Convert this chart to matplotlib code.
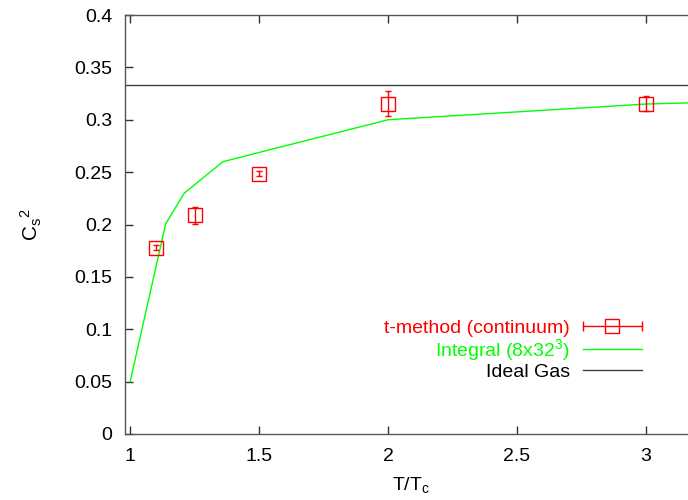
import matplotlib
matplotlib.use("Agg")
import matplotlib.pyplot as plt
from matplotlib.lines import Line2D
from matplotlib.legend_handler import HandlerLine2D, HandlerTuple

plt.rcParams['font.family'] = ['Liberation Sans', 'DejaVu Sans']
plt.rcParams['mathtext.fontset'] = 'custom'
plt.rcParams['mathtext.rm'] = 'Liberation Sans'
plt.rcParams['mathtext.it'] = 'Liberation Sans'

# t-method (continuum) data
t_x = [1.1, 1.25, 1.5, 2.0, 3.0]
t_y = [0.178, 0.2088, 0.2485, 0.3153, 0.3153]
t_err = [0.002, 0.008, 0.0022, 0.0118, 0.007]

# Integral (8x32^3)
int_x = [1.0, 1.1375, 1.21, 1.36, 2.0, 3.0, 3.2]
int_y = [0.05, 0.2005, 0.23, 0.26, 0.30, 0.315, 0.3163]

ideal_gas = 1.0 / 3.0

xticks = [1, 1.5, 2, 2.5, 3]
xticklabels = ['1', '1.5', '2', '2.5', '3']
yticks = [0, 0.05, 0.1, 0.15, 0.2, 0.25, 0.3, 0.35, 0.4]
yticklabels = ['0', '0.05', '0.1', '0.15', '0.2', '0.25', '0.3', '0.35', '0.4']

FS = 14
fig = plt.figure(figsize=(6.88, 5.0), dpi=100)
ax = fig.add_axes([125/688, 66/500, 572.5/688, 419/500])

spine_col = '#555555'
for s in ax.spines.values():
    s.set_color(spine_col)
    s.set_linewidth(1.0)

ax.axhline(ideal_gas, color='#404040', lw=1.0, zorder=2)
ax.plot(int_x, int_y, color='#00ff00', lw=1.0, zorder=3)
ax.errorbar(t_x, t_y, yerr=t_err, fmt='s', mfc='none', mec='#ff0000', mew=1.0,
            ms=10, ecolor='#ff0000', elinewidth=1.0, capsize=2.5, capthick=1.0, zorder=4)

ax.set_xlim(0.98, 3.2)
ax.set_ylim(0, 0.4)
ax.set_xticks(xticks)
ax.set_xticklabels(xticklabels)
ax.set_yticks(yticks)
ax.set_yticklabels(yticklabels)
ax.tick_params(direction='in', length=6, width=1.0, color='#333333', labelsize=FS,
               top=True, right=True, pad=9)
ax.tick_params(axis='x', pad=10)

ax.set_xlabel(r'$\mathrm{T/T_c}$', fontsize=FS, labelpad=7)
ax.set_ylabel(r'$\mathrm{C_s{}^2}$', fontsize=FS + 1, labelpad=22)

# legend handles
h_bar = Line2D([], [], color='#ff0000', lw=1.0, marker='|', ms=7, mew=1.0)
h_sq = Line2D([], [], ls='none', marker='s', mfc='none', mec='#ff0000', ms=10, mew=1.0)
h_int = Line2D([], [], color='#00ff00', lw=1.0)
h_ig = Line2D([], [], color='#404040', lw=1.0)

leg = ax.legend([(h_bar, h_sq), h_int, h_ig],
                ['t-method (continuum)', r'Integral (8x32$^3$)', 'Ideal Gas'],
                handler_map={h_bar: HandlerLine2D(numpoints=2, marker_pad=0),
                             h_sq: HandlerLine2D(numpoints=1),
                             tuple: HandlerTuple(ndivide=1, pad=0)},
                loc='center right', bbox_to_anchor=((642-125)/572.5, (434-350)/419),
                frameon=False, markerfirst=False, fontsize=FS, borderpad=0,
                borderaxespad=0, handlelength=3.05, handletextpad=0.65,
                labelspacing=0.0)
texts = leg.get_texts()
texts[0].set_color('#ff0000')
texts[1].set_color('#00ff00')
texts[2].set_color('black')

fig.savefig('out.png', dpi=100)
